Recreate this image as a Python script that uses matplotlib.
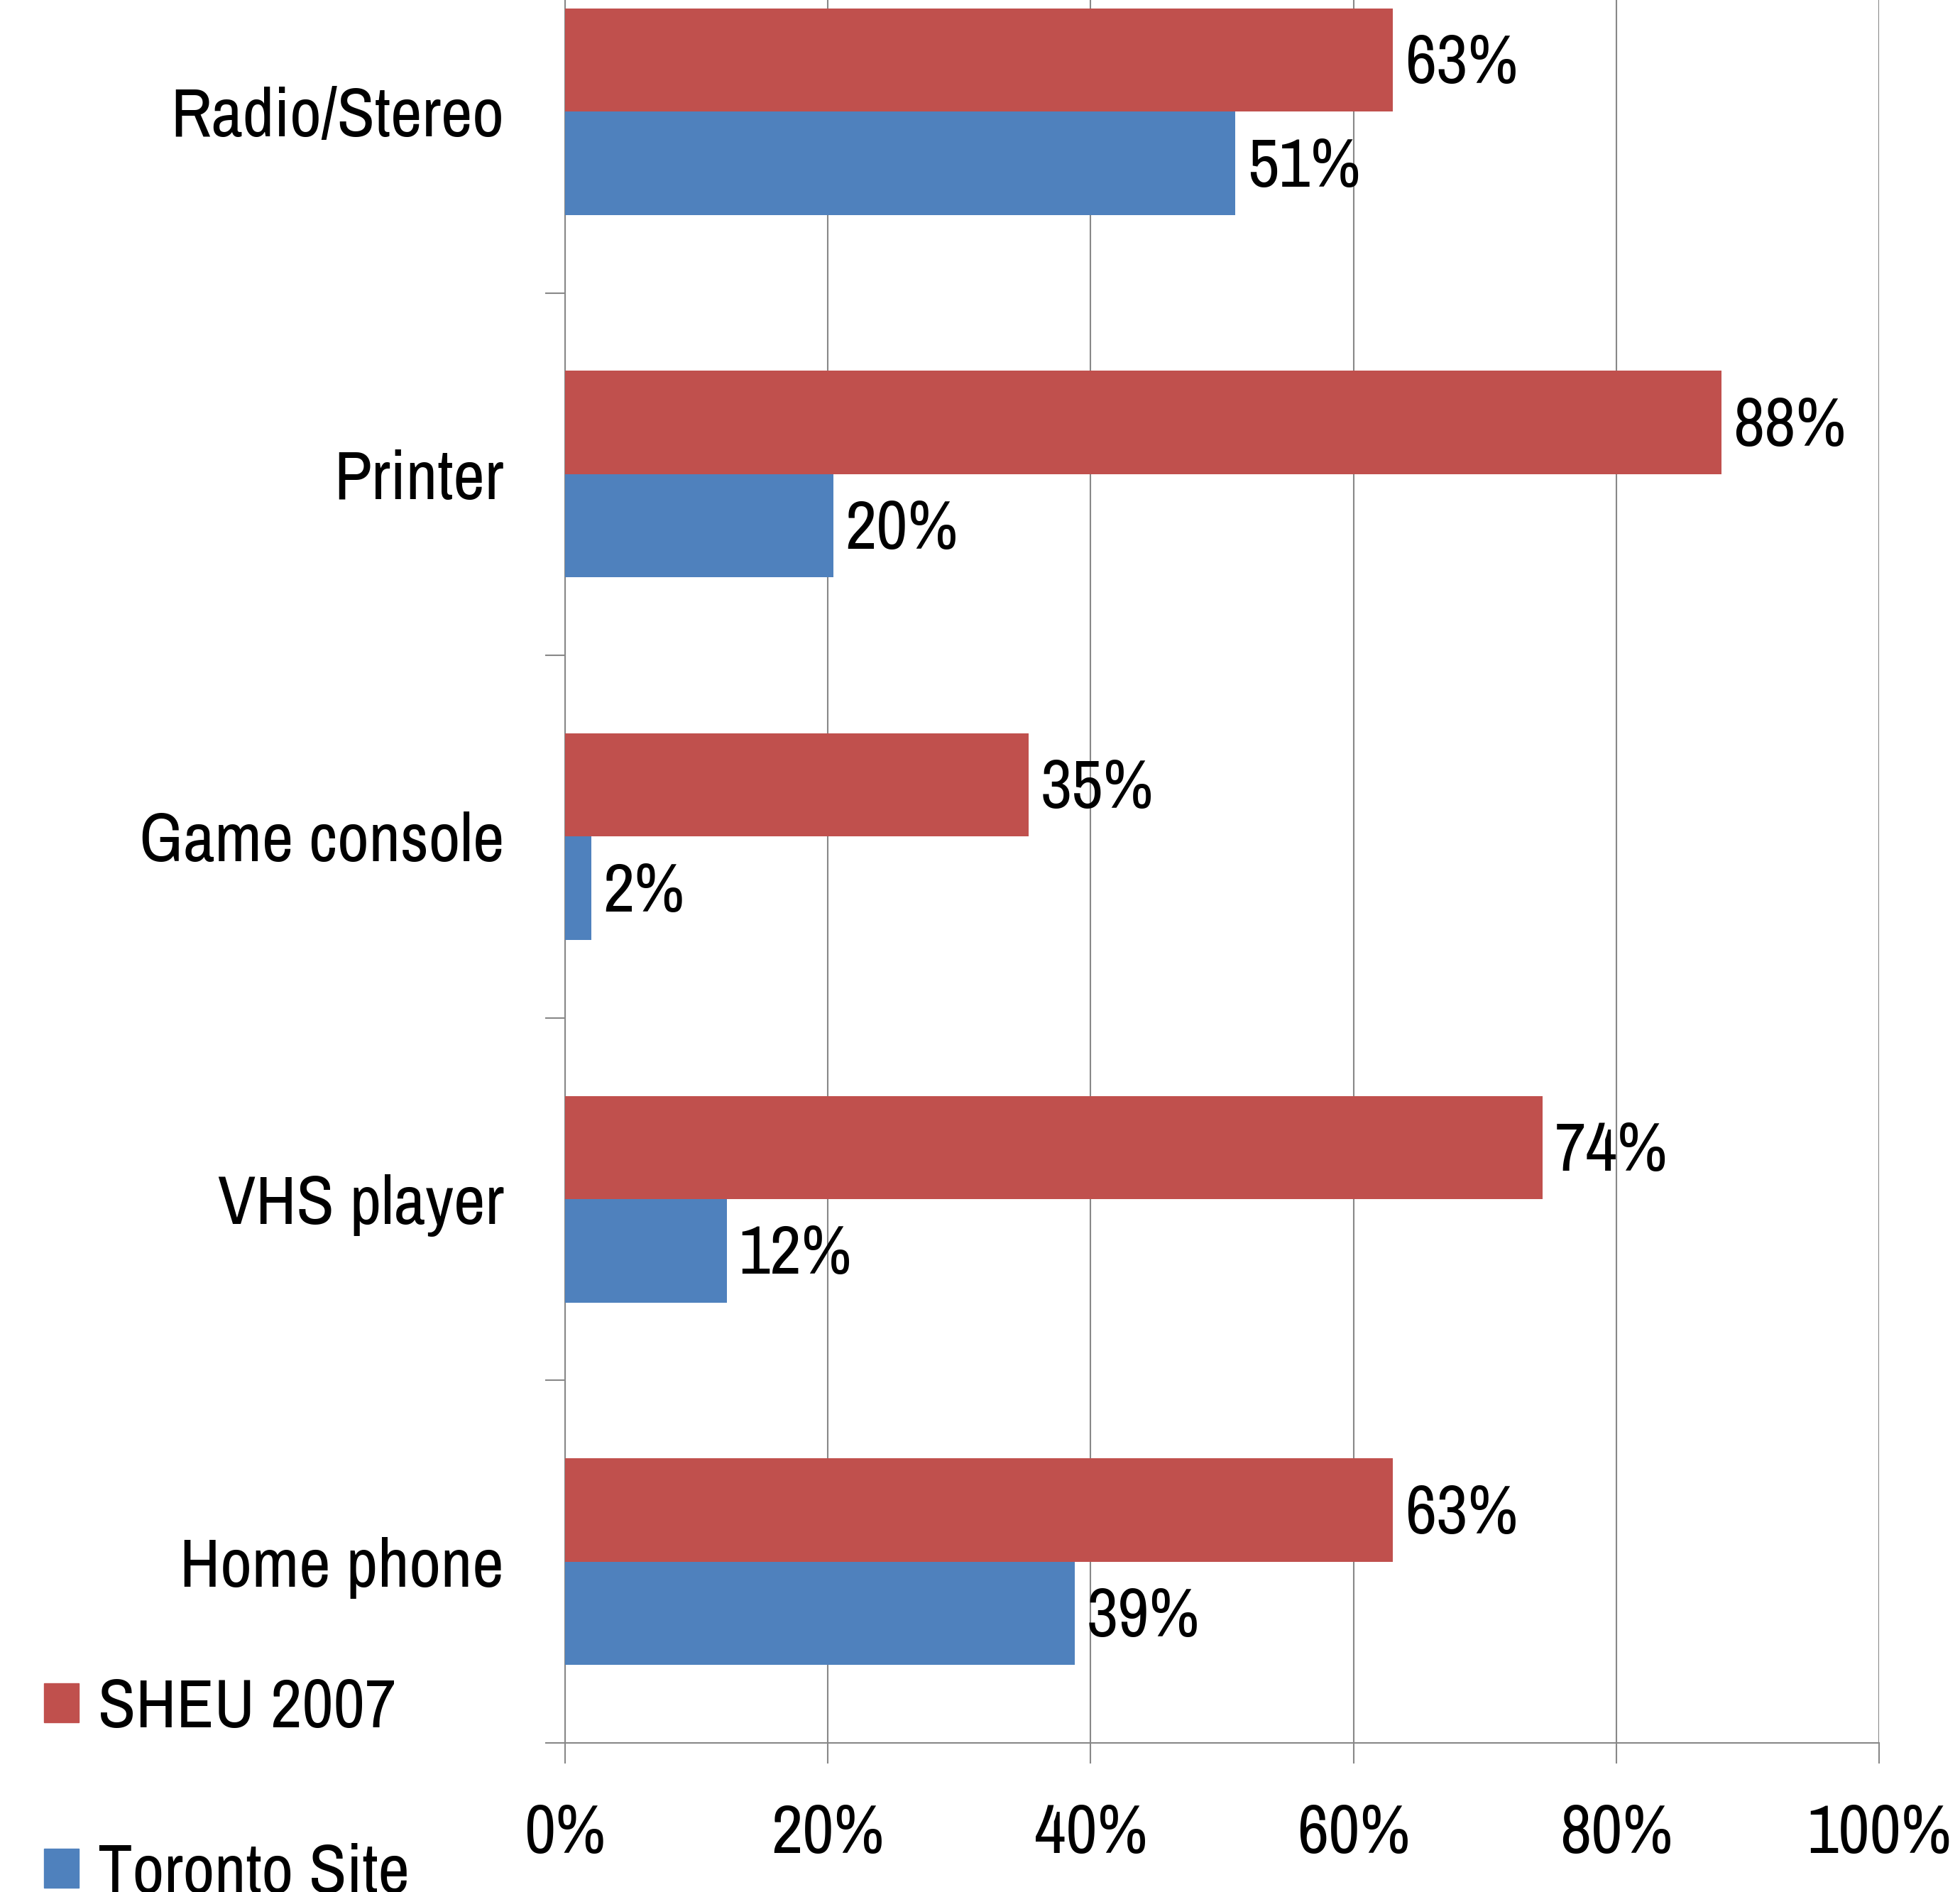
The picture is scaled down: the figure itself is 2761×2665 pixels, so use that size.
import matplotlib.pyplot as plt
from matplotlib.patches import Patch

# Data
categories = ['Radio/Stereo', 'Printer', 'Game console', 'VHS player', 'Home phone']
sheu_2007 = [0.63, 0.88, 0.353, 0.744, 0.63]
toronto_site = [0.51, 0.204, 0.02, 0.123, 0.388]
series_names = ['SHEU 2007', 'Toronto Site']
x_ticks = [0, 0.2, 0.4, 0.6, 0.8, 1.0]
x_tick_labels = ['0%', '20%', '40%', '60%', '80%', '100%']

red = '#C0504D'
blue = '#4F81BD'
grey = '#888888'

plt.rcParams['font.family'] = ['Archivo Narrow', 'DejaVu Sans']
fs = 70

W, H = 2761, 2665
fig = plt.figure(figsize=(W / 100, H / 100), dpi=100)
# axes top sits above the figure edge, as in the cropped original
left, right, bottom, top = 796, 2647, 2455, -98
ax = fig.add_axes([left / W, (H - bottom) / H, (right - left) / W, (bottom - top) / H])

ypos = list(range(len(categories)))
bh = 0.285
ax.barh([y - bh / 2 for y in ypos], sheu_2007, height=bh, color=red, zorder=3)
ax.barh([y + bh / 2 for y in ypos], toronto_site, height=bh, color=blue, zorder=3)

# value labels, nudged a little below bar centre like the original
for y, v in zip(ypos, sheu_2007):
    ax.text(v + 0.009, y - bh / 2 + 0.012, f'{v:.0%}', va='center', ha='left', fontsize=fs)
for y, v in zip(ypos, toronto_site):
    ax.text(v + 0.009, y + bh / 2 + 0.012, f'{v:.0%}', va='center', ha='left', fontsize=fs)

ax.set_xlim(0, 1)
ax.set_ylim(len(categories) - 0.5, -0.5)

ax.set_xticks(x_ticks)
ax.set_xticklabels(x_tick_labels, fontsize=fs)
ax.set_yticks(ypos)
ax.set_yticklabels(categories, fontsize=fs)
ax.set_yticks([y - 0.5 for y in range(len(categories) + 1)], minor=True)

ax.tick_params(axis='x', direction='out', length=21, width=1.5, color=grey, pad=40)
ax.tick_params(axis='y', which='major', length=0, pad=62)
ax.tick_params(axis='y', which='minor', direction='out', length=20, width=1.5, color=grey)

ax.grid(axis='x', color=grey, linewidth=1.5, zorder=0)
for s in ['top', 'right']:
    ax.spines[s].set_visible(False)
for s in ['left', 'bottom']:
    ax.spines[s].set_color(grey)
    ax.spines[s].set_linewidth(1.5)

handles = [Patch(color=red), Patch(color=blue)]
fig.legend(handles, series_names, loc='upper left', bbox_to_anchor=(62 / W, (H - 2363) / H),
           frameon=False, fontsize=fs, handlelength=0.5, handleheight=0.5,
           handletextpad=0.28, labelspacing=1.5, borderpad=0, borderaxespad=0)

fig.savefig('out.png', dpi=100)
